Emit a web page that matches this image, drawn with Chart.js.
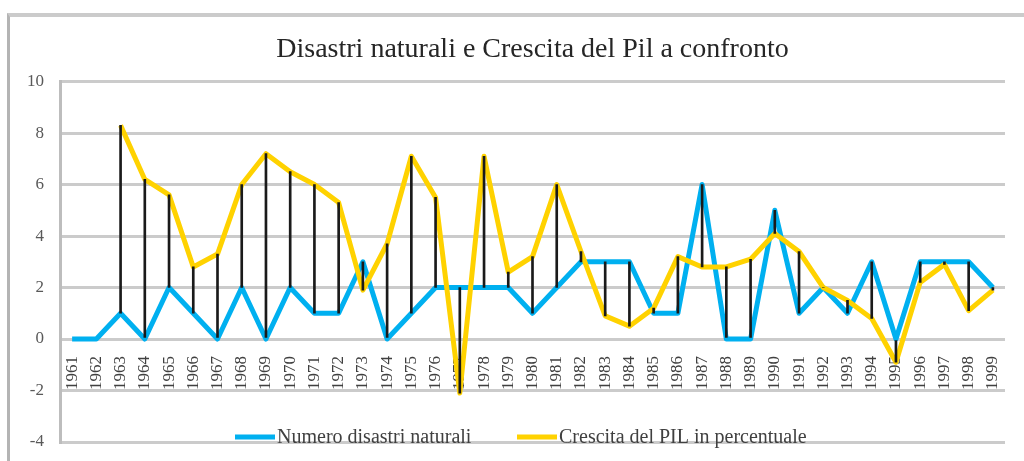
<!DOCTYPE html>
<html>
<head>
<meta charset="utf-8">
<script src="https://cdn.jsdelivr.net/npm/chart.js@4/dist/chart.umd.min.js"></script>
<style>
  html, body { margin: 0; padding: 0; background: #fff; }
  #frame { position: absolute; left: 7px; top: 13px; right: 0; bottom: 0;
           border-top: 4px solid #cbcbcb; border-left: 3px solid #b4b4b4; }
  #wrap { position: absolute; left: 0; top: 0; width: 1024px; height: 461px; }
</style>
</head>
<body>
<div id="frame"></div>
<div id="wrap"><canvas id="disastriChart" width="1024" height="461"></canvas></div>
<script>
const years = ['1961','1962','1963','1964','1965','1966','1967','1968','1969','1970',
               '1971','1972','1973','1974','1975','1976','1977','1978','1979','1980',
               '1981','1982','1983','1984','1985','1986','1987','1988','1989','1990',
               '1991','1992','1993','1994','1995','1996','1997','1998','1999'];

const disastri = [0, 0, 1, 0, 2, 1, 0, 2, 0, 2,
                  1, 1, 3, 0, 1, 2, 2, 2, 2, 1,
                  2, 3, 3, 3, 1, 1, 6, 0, 0, 5,
                  1, 2, 1, 3, 0, 3, 3, 3, 2];

const crescitaPil = [null, null, 8.3, 6.2, 5.6, 2.8, 3.3, 6.0, 7.2, 6.5,
                     6.0, 5.3, 1.9, 3.7, 7.1, 5.5, -2.1, 7.1, 2.6, 3.2,
                     6.0, 3.4, 0.9, 0.5, 1.2, 3.2, 2.8, 2.8, 3.1, 4.1,
                     3.4, 2.0, 1.5, 0.8, -0.9, 2.2, 2.9, 1.1, 1.9];

const yTicks = [-4, -2, 0, 2, 4, 6, 8, 10];

const BLUE = '#00b0f0';
const YELLOW = '#ffd200';
const SERIF = '"Liberation Serif", "DejaVu Serif", serif';

// high-low lines between the two series
const highLow = crescitaPil.map(function (g, i) {
    if (g === null) return null;
    return [Math.min(g, disastri[i]), Math.max(g, disastri[i])];
});

// legend drawn over the bottom of the plot, like the original
const legendInside = {
    id: 'legendInside',
    afterDraw(chart) {
        const ctx = chart.ctx;
        const y = chart.chartArea.bottom - 5;
        const items = [
            { x: 235, color: BLUE, text: chart.data.datasets[1].label },
            { x: 517, color: YELLOW, text: chart.data.datasets[2].label }
        ];
        ctx.save();
        ctx.font = '20px ' + SERIF;
        ctx.textBaseline = 'middle';
        items.forEach(function (it) {
            ctx.strokeStyle = it.color;
            ctx.lineWidth = 5;
            ctx.beginPath();
            ctx.moveTo(it.x, y);
            ctx.lineTo(it.x + 40, y);
            ctx.stroke();
            ctx.fillStyle = '#404040';
            ctx.fillText(it.text, it.x + 42, y + 1);
        });
        ctx.restore();
    }
};

const ctx = document.getElementById('disastriChart').getContext('2d');
new Chart(ctx, {
    data: {
        labels: years,
        datasets: [{
            type: 'bar',
            label: 'linee',
            data: highLow,
            backgroundColor: '#1a1a1a',
            barThickness: 2,
            order: 1
        }, {
            type: 'line',
            label: 'Numero disastri naturali',
            data: disastri,
            borderColor: BLUE,
            borderWidth: 5,
            borderJoinStyle: 'round',
            pointRadius: 0,
            tension: 0,
            order: 3
        }, {
            type: 'line',
            label: 'Crescita del PIL in percentuale',
            data: crescitaPil,
            borderColor: YELLOW,
            borderWidth: 5,
            borderJoinStyle: 'round',
            pointRadius: 0,
            tension: 0,
            spanGaps: false,
            order: 2
        }]
    },
    options: {
        responsive: false,
        animation: false,
        layout: { padding: { left: 0, right: 19, top: 0, bottom: 19 } },
        plugins: {
            legend: { display: false },
            tooltip: { enabled: false },
            title: {
                display: true,
                fullSize: false,
                text: 'Disastri naturali e Crescita del Pil a confronto',
                color: '#262626',
                font: { family: SERIF, size: 28, weight: 'normal' },
                padding: { top: 33, bottom: 15 }
            }
        },
        scales: {
            x: {
                position: { y: 0 },
                offset: true,
                afterFit: function (s) { s.paddingTop = 0; s.paddingBottom = 0; },
                grid: { display: false },
                border: { display: false },
                ticks: {
                    autoSkip: false,
                    minRotation: 90,
                    maxRotation: 90,
                    padding: 9,
                    color: '#404040',
                    font: { family: SERIF, size: 17 }
                }
            },
            y: {
                min: -4,
                max: 10,
                afterFit: function (s) { s.width = 60; s.paddingBottom = 0; },
                afterBuildTicks: function (s) {
                    s.ticks = yTicks.map(function (v) { return { value: v }; });
                },
                grid: { color: '#cbcbcb', lineWidth: 3, drawTicks: false },
                border: { color: '#bdbdbd', width: 3 },
                ticks: {
                    padding: 16,
                    color: '#595959',
                    font: { family: SERIF, size: 17 }
                }
            }
        }
    },
    plugins: [legendInside]
});
</script>
</body>
</html>
